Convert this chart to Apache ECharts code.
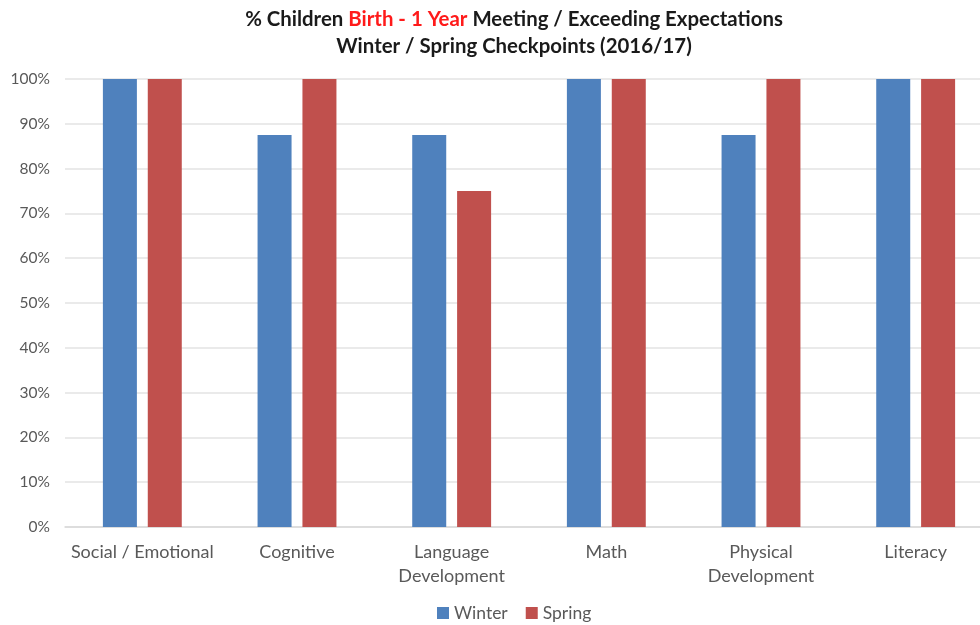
<!DOCTYPE html>
<html>
<head>
<meta charset="utf-8">
<script src="https://cdn.jsdelivr.net/npm/echarts@6/dist/echarts.min.js"></script>
<style>
  html, body { margin: 0; padding: 0; background: #fff; }
  #chart { width: 980px; height: 625px; }
</style>
</head>
<body>
<div id="chart"></div>
<script>
// Domains assessed at each checkpoint
const categories = ['Social / Emotional', 'Cognitive', 'Language\nDevelopment', 'Math', 'Physical\nDevelopment', 'Literacy'];
// Percent of children meeting / exceeding expectations
const winter = [100, 87.5, 87.5, 100, 87.5, 100];
const spring = [100, 100, 75, 100, 100, 100];
const seriesNames = ['Winter', 'Spring'];
const yTicks = [0, 10, 20, 30, 40, 50, 60, 70, 80, 90, 100];

const FONT = 'Lato, "Open Sans", sans-serif';
const chart = echarts.init(document.getElementById('chart'));

chart.setOption({
  animation: false,
  textStyle: { fontFamily: FONT },
  title: {
    left: 509,
    textAlign: 'center',
    top: 1,
    text: '{b|% Children }{r|Birth - 1 Year}{b| Meeting / Exceeding Expectations}\n{b|Winter / Spring Checkpoints (2016/17)}',
    textStyle: {
      rich: {
        b: { fontFamily: FONT, fontWeight: 'bold', fontSize: 20.4, color: '#1a1a1a', lineHeight: 27 },
        r: { fontFamily: FONT, fontWeight: 'bold', fontSize: 20.4, color: '#ff1a1a', lineHeight: 27 }
      }
    }
  },
  legend: {
    bottom: -2,
    left: 432,
    itemWidth: 12,
    itemHeight: 12,
    itemGap: 18,
    icon: 'rect',
    textStyle: { fontFamily: FONT, fontSize: 17.5, color: '#595959' },
    data: seriesNames
  },
  grid: { left: 65, width: 928, top: 79, bottom: 98, outerBoundsMode: 'none', containLabel: false },
  xAxis: {
    type: 'category',
    data: categories,
    axisTick: { show: false },
    axisLine: { lineStyle: { color: '#d9d9d9', width: 1.5 } },
    axisLabel: { fontFamily: FONT, fontSize: 18, color: '#595959', margin: 13, lineHeight: 24, interval: 0 }
  },
  yAxis: {
    type: 'value',
    min: 0,
    max: 100,
    interval: 10,
    axisLine: { show: false },
    axisTick: { show: false },
    splitLine: { lineStyle: { color: '#e3e3e3', width: 1.5 } },
    axisLabel: {
      fontFamily: FONT, fontSize: 15.5, color: '#595959', margin: 15,
      formatter: v => yTicks.includes(v) ? v + '%' : ''
    }
  },
  series: [
    { name: seriesNames[0], type: 'bar', data: winter, barWidth: 34, barGap: '32%', itemStyle: { color: '#4f81bd' } },
    { name: seriesNames[1], type: 'bar', data: spring, barWidth: 34, barGap: '32%', itemStyle: { color: '#c0504d' } }
  ]
});
</script>
</body>
</html>
